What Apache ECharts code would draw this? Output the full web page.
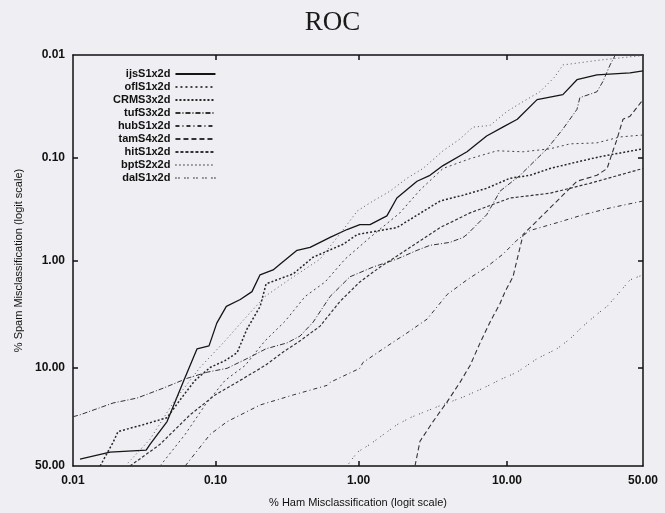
<!DOCTYPE html>
<html>
<head>
<meta charset="utf-8">
<script src="https://cdn.jsdelivr.net/npm/echarts@6/dist/echarts.min.js"></script>
<style>
html,body{margin:0;padding:0;background:#efeff3;}
#chart{width:665px;height:513px;}
</style>
</head>
<body>
<div id="chart"></div>
<script>
// Tick labels (percent) for both logit axes
const xTickValues = [0.01, 0.1, 1, 10, 50];
const xTickLabels = ['0.01', '0.10', '1.00', '10.00', '50.00'];
const yTickValues = [0.01, 0.1, 1, 10, 50];
const yTickLabels = ['0.01', '0.10', '1.00', '10.00', '50.00'];

const seriesNames = ['ijsS1x2d','oflS1x2d','CRMS3x2d','tufS3x2d','hubS1x2d','tamS4x2d','hitS1x2d','bptS2x2d','dalS1x2d'];

// % ham misclassification / % spam misclassification
const ijsHam  = [0.0112,0.0182,0.0326,0.0347,0.0457,0.0592,0.0742,0.0900,0.102,0.119,0.149,0.180,0.205,0.253,0.284,0.372,0.459,0.633,0.83,1.02,1.20,1.57,1.84,2.53,3.10,3.80,5.5,7.4,9.4,11.6,15.3,21.5,25.6,32.2,44.8,50];
const ijsSpam = [46.1,42.3,41.2,38.1,27.0,13.3,6.74,6.34,3.91,2.72,2.34,1.97,1.36,1.22,1.07,0.79,0.739,0.593,0.497,0.446,0.446,0.366,0.246,0.169,0.148,0.119,0.0874,0.0614,0.0503,0.0422,0.0272,0.0243,0.0174,0.0156,0.0149,0.0143];

const oflHam  = [0.0408,0.0612,0.0845,0.1166,0.161,0.222,0.307,0.424,0.585,0.805,1.20,1.93,2.65,3.80,5.76,8.64,12.6,18.2,23.5,32.2,40.8,50];
const oflSpam = [50,33.0,20.3,12.8,9.52,5.71,3.75,2.19,1.59,0.96,0.593,0.343,0.206,0.127,0.102,0.0855,0.0874,0.0818,0.0732,0.0716,0.0627,0.0600];

const crmHam  = [0.0155,0.0191,0.0207,0.0310,0.0457,0.0564,0.0718,0.0916,0.1166,0.1416,0.166,0.2054,0.226,0.350,0.482,0.78,0.98,1.84,3.63,5.18,7.4,10.44,13.88,18.2,23.5,33.3,50];
const crmSpam = [50,37.1,31.6,28.4,25.3,18.5,12.8,9.9,8.61,7.32,4.44,2.72,1.66,1.33,0.92,0.69,0.555,0.476,0.263,0.231,0.198,0.158,0.148,0.127,0.114,0.0975,0.0818];

const tufHam  = [0.01,0.0112,0.0191,0.0282,0.0428,0.0631,0.087,0.1205,0.166,0.226,0.317,0.391,0.482,0.633,0.871,1.26,1.84,2.53,3.10,4.23,5.18,5.5,7.4,9.03,12.06,17.5,21.5,25.6,26.5,32.2,34.4,37.0,38.9];
const tufSpam = [24.9,24.1,19.6,17.9,14.9,12.3,10.9,10.07,8.27,6.74,5.96,5.15,3.83,2.19,1.42,1.144,0.96,0.79,0.707,0.662,0.593,0.555,0.358,0.211,0.148,0.0818,0.0526,0.0338,0.0260,0.0228,0.0180,0.0125,0.0101];

const hubHam  = [0.0612,0.0916,0.1205,0.2054,0.350,0.603,0.633,1.02,1.07,1.48,2.16,2.96,4.05,5.5,7.4,9.43,11.55,13.88,19.95,27.5,37.0,50];
const hubSpam = [50,33.0,27.0,20.3,16.9,14.1,13.3,10.07,8.97,6.74,4.83,3.59,2.10,1.52,1.144,0.86,0.63,0.508,0.427,0.358,0.307,0.263];

const tamHam  = [2.45,2.65,3.25,4.05,4.94,5.76,6.71,7.78,9.03,9.72,10.9,12.6,15.3,18.2,21.5,25.6,32.2,35.9,38.1,39.7,40.8,42.0,44.8,50];
const tamSpam = [50,36.5,27.0,19.2,13.3,9.52,5.96,3.83,2.55,1.97,1.42,0.555,0.409,0.307,0.231,0.169,0.148,0.127,0.0855,0.0656,0.0526,0.0422,0.0394,0.0272];

const hitHam  = [0.0251,0.0408,0.0663,0.0993,0.1487,0.222,0.307,0.391,0.539,0.7425,1.02,1.41,2.27,3.63,5.76,10.44,18.2,29.8,50];
const hitSpam = [50,38.1,24.1,16.9,12.8,9.52,7.02,5.71,4.17,2.44,1.59,1.144,0.739,0.476,0.343,0.246,0.221,0.177,0.127];

const bptHam  = [0.0232,0.0347,0.052,0.0779,0.1166,0.161,0.222,0.333,0.539,0.78,0.98,1.26,1.65,2.16,2.78,3.80,4.94,6.03,7.78,10.0,12.6,15.9,19.4,21.5,33.3,50];
const bptSpam = [50,35.5,18.5,9.9,5.71,3.52,2.19,1.49,0.96,0.50,0.328,0.263,0.211,0.158,0.127,0.0855,0.0656,0.0503,0.0485,0.0354,0.0284,0.0228,0.0163,0.0125,0.0112,0.0101];

const dalHam  = [0.83,0.98,1.20,1.84,2.27,3.46,5.18,7.0,9.43,11.55,15.3,19.95,23.5,27.5,32.2,35.9,40.8,44.8,50];
const dalSpam = [50,42.3,38.1,28.4,25.3,21.0,17.6,14.9,12.3,10.9,8.27,6.74,5.48,4.17,3.23,2.72,1.97,1.52,1.36];

const hamLists  = [ijsHam, oflHam, crmHam, tufHam, hubHam, tamHam, hitHam, bptHam, dalHam];
const spamLists = [ijsSpam, oflSpam, crmSpam, tufSpam, hubSpam, tamSpam, hitSpam, bptSpam, dalSpam];

const lineStyles = [
  {type:'solid', width:1.3, color:'#151515'},
  {type:[2,3], width:1, color:'#444'},
  {type:[2,2], width:1.5, color:'#262626'},
  {type:[5,2,1,2], width:1, color:'#333'},
  {type:[4,3,1,3], width:1, color:'#333'},
  {type:[5,3], width:1.1, color:'#333'},
  {type:[3,2], width:1.2, color:'#333'},
  {type:[1,3], width:1, color:'#555'},
  {type:[1,2,1,5], width:1, color:'#444'}
];

function logit(p){ return Math.log(p / (100 - p)); }
const LMIN = logit(0.01), LMAX = logit(50);
function labelFor(vals, labels){
  return function(v){
    let best = 0, bd = Infinity;
    vals.forEach((t,i)=>{ const d = Math.abs(logit(t)-v); if(d<bd){bd=d;best=i;} });
    return labels[best];
  };
}
const xLabelVals = xTickValues.map(logit);
const yLabelVals = yTickValues.map(logit);
const xInnerTicks = xTickValues.slice(1,-1).map(logit);
const yInnerTicks = yTickValues.slice(1,-1).map(logit);

const font = 'Liberation Sans, Arial, Helvetica, sans-serif';
const axisLine = {show:true, onZero:false, lineStyle:{color:'#111', width:1.5}};

const series = seriesNames.map((name,i)=>({
  name: name,
  type: 'line',
  xAxisIndex: 0, yAxisIndex: 0,
  symbol: 'none',
  showSymbol: false,
  silent: true,
  animation: false,
  lineStyle: lineStyles[i],
  itemStyle: {color: lineStyles[i].color},
  data: hamLists[i].map((h,j)=>[logit(h), logit(spamLists[i][j])])
}));

const chart = echarts.init(document.getElementById('chart'), null, {renderer:'canvas'});
chart.setOption({
  backgroundColor: '#efeff3',
  animation: false,
  title: {
    text: 'ROC', left: 'center', top: 4,
    textStyle: {fontFamily: 'Liberation Serif, Times New Roman, serif', fontWeight: 'normal', fontSize: 27, color: '#1a1a1a'}
  },
  grid: {left: 73, right: 22, top: 55, bottom: 41, containLabel: false},
  legend: {
    orient: 'vertical', left: 113, top: 68, align: 'right', padding: 0,
    itemWidth: 40, itemHeight: 8, itemGap: 1,
    itemStyle: {opacity: 0},
    textStyle: {fontFamily: font, fontSize: 11, fontWeight: 'bold', color: '#111', lineHeight: 12},
    data: seriesNames
  },
  xAxis: [{
    type: 'value', min: LMIN, max: LMAX, position: 'bottom',
    name: '% Ham Misclassification (logit scale)', nameLocation: 'middle', nameGap: 31,
    nameTextStyle: {fontFamily: font, fontSize: 11, color: '#111'},
    axisLine: axisLine,
    axisTick: {show: true, inside: true, length: 5, customValues: xInnerTicks, lineStyle:{color:'#111', width:1.5}},
    axisLabel: {show: true, customValues: xLabelVals, formatter: labelFor(xTickValues, xTickLabels), margin: 9,
      fontFamily: font, fontSize: 12, fontWeight: 'bold', color: '#111'},
    splitLine: {show: false}
  },{
    type: 'value', min: LMIN, max: LMAX, position: 'top',
    axisLine: axisLine,
    axisTick: {show: true, inside: true, length: 5, customValues: xInnerTicks, lineStyle:{color:'#111', width:1.5}},
    axisLabel: {show: false}, splitLine: {show: false}
  }],
  yAxis: [{
    type: 'value', min: LMIN, max: LMAX, inverse: true, position: 'left',
    name: '% Spam Misclassification (logit scale)', nameLocation: 'middle', nameGap: 48, nameRotate: 90,
    nameTextStyle: {fontFamily: font, fontSize: 11, color: '#111'},
    axisLine: axisLine,
    axisTick: {show: true, inside: true, length: 5, customValues: yInnerTicks, lineStyle:{color:'#111', width:1.5}},
    axisLabel: {show: true, customValues: yLabelVals, formatter: labelFor(yTickValues, yTickLabels), margin: 8,
      fontFamily: font, fontSize: 12, fontWeight: 'bold', color: '#111'},
    splitLine: {show: false}
  },{
    type: 'value', min: LMIN, max: LMAX, inverse: true, position: 'right',
    axisLine: axisLine,
    axisTick: {show: true, inside: true, length: 5, customValues: yInnerTicks, lineStyle:{color:'#111', width:1.5}},
    axisLabel: {show: false}, splitLine: {show: false}
  }],
  series: series
});
</script>
</body>
</html>
